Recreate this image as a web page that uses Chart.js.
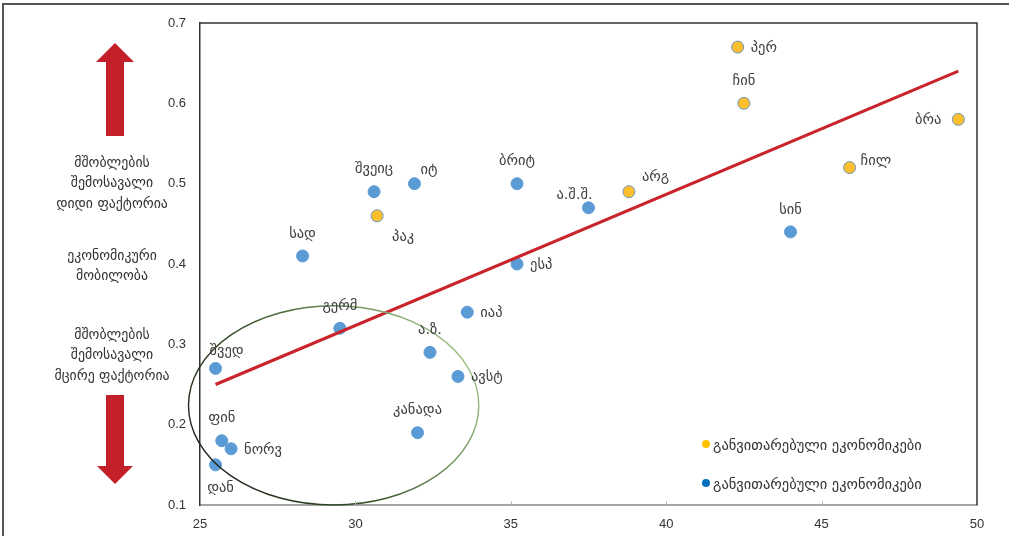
<!DOCTYPE html>
<html>
<head>
<meta charset="utf-8">
<script src="https://cdn.jsdelivr.net/npm/chart.js@4.4.1/dist/chart.umd.min.js"></script>
<style>
  html, body { margin: 0; padding: 0; background: #fff; }
  #wrap { position: relative; width: 1009px; height: 536px; }
</style>
</head>
<body>
<div id="wrap"><canvas id="mobility" width="1009" height="536"></canvas></div>
<script>
// ბრტყელი მონაცემები
const blueNames = ["შვედ", "ფინ", "ნორვ", "დან", "გერმ", "სად", "შვეიც", "იტ", "ბრიტ", "ესპ",
                   "იაპ", "ა.ზ.", "ავსტ", "კანადა", "ა.შ.შ.", "სინ"];
const blueX = [25.5, 25.7, 26.0, 25.5, 29.5, 28.3, 30.6, 31.9, 35.2, 35.2, 33.6, 32.4, 33.3, 32.0, 37.5, 44.0];
const blueY = [0.27, 0.18, 0.17, 0.15, 0.32, 0.41, 0.49, 0.50, 0.50, 0.40, 0.34, 0.29, 0.26, 0.19, 0.47, 0.44];

const yellowNames = ["პაკ", "არგ", "ჩინ", "პერ", "ჩილ", "ბრა"];
const yellowX = [30.7, 38.8, 42.5, 42.3, 45.9, 49.4];
const yellowY = [0.46, 0.49, 0.60, 0.67, 0.52, 0.58];

const trendX = [25.5, 49.4];
const trendY = [0.25, 0.64];

const ringCenter = [29.3, 0.224];
const ringRadius = [4.67, 0.124];

const xTicks = [25, 30, 35, 40, 45, 50];
const yTicks = [0.1, 0.2, 0.3, 0.4, 0.5, 0.6, 0.7];

const legendText = ["განვითარებული ეკონომიკები", "განვითარებული ეკონომიკები"];
const sideNotes = [
    ["მშობლების", "შემოსავალი", "დიდი ფაქტორია"],
    ["ეკონომიკური", "მობილობა"],
    ["მშობლების", "შემოსავალი", "მცირე ფაქტორია"]
];

// წარწერების განლაგება
const labelSide = {
    "შვედ": "topnudge", "ფინ": "top", "ნორვ": "right", "დან": "bottom", "გერმ": "top", "სად": "top",
    "შვეიც": "top", "იტ": "topright", "ბრიტ": "top", "ესპ": "right", "იაპ": "right", "ა.ზ.": "top",
    "ავსტ": "right", "კანადა": "top", "ა.შ.შ.": "topleft", "სინ": "top",
    "პაკ": "bottomright", "არგ": "rightup", "ჩინ": "top", "პერ": "right", "ჩილ": "rightlow", "ბრა": "left"
};
const sideOffsets = {
    top: [0, -22, "center"], topnudge: [11, -17, "center"], bottom: [5, 23, "center"],
    right: [13, 1, "left"], left: [-17, 1, "right"], topright: [6, -13, "left"],
    topleft: [-14, -13, "center"], bottomright: [26, 21, "center"], rightup: [13, -14, "left"],
    rightlow: [11, -6, "left"]
};

const geoFont = '"DejaVu Sans", sans-serif';
const numFont = '"Liberation Sans", Arial, sans-serif';

function points(xs, ys) {
    return xs.map((x, i) => ({ x: x, y: ys[i] }));
}

const decorPlugin = {
    id: "decor",
    beforeDraw(chart) {
        const c = chart.ctx;
        c.save();
        // გარე ჩარჩო
        c.strokeStyle = "#555";
        c.lineWidth = 2;
        c.beginPath();
        c.moveTo(3, 600);
        c.lineTo(3, 4);
        c.lineTo(1100, 4);
        c.stroke();

        // ისრები
        c.fillStyle = "#c4202a";
        const cx = 115;
        c.beginPath();
        c.moveTo(cx, 43);
        c.lineTo(cx + 19, 62);
        c.lineTo(cx + 9, 62);
        c.lineTo(cx + 9, 136);
        c.lineTo(cx - 9, 136);
        c.lineTo(cx - 9, 62);
        c.lineTo(cx - 19, 62);
        c.closePath();
        c.fill();
        c.beginPath();
        c.moveTo(cx, 484);
        c.lineTo(cx + 18, 466);
        c.lineTo(cx + 9, 466);
        c.lineTo(cx + 9, 395);
        c.lineTo(cx - 9, 395);
        c.lineTo(cx - 9, 466);
        c.lineTo(cx - 18, 466);
        c.closePath();
        c.fill();

        // მარცხენა ტექსტი
        c.fillStyle = "#333";
        c.font = "13.8px " + geoFont;
        c.textAlign = "center";
        c.textBaseline = "middle";
        const tops = [163, 256, 335];
        sideNotes.forEach((block, b) => {
            block.forEach((line, i) => c.fillText(line, 112, tops[b] + i * 20.5));
        });
        c.restore();
    },
    afterDraw(chart) {
        const c = chart.ctx;
        const a = chart.chartArea;
        const xs = chart.scales.x;
        c.save();
        // ჩარჩოს ზედა და მარჯვენა მხარე
        c.strokeStyle = "#333";
        c.lineWidth = 1.5;
        c.beginPath();
        c.moveTo(a.left, a.top);
        c.lineTo(a.right, a.top);
        c.lineTo(a.right, a.bottom);
        c.stroke();
        // პატარა დანაყოფები
        c.strokeStyle = "#bbb";
        c.lineWidth = 1;
        xTicks.slice(1, -1).forEach(v => {
            const px = Math.round(xs.getPixelForValue(v)) + 0.5;
            c.beginPath();
            c.moveTo(px, a.bottom);
            c.lineTo(px, a.bottom - 4);
            c.stroke();
        });
        c.restore();
    },
    afterDatasetsDraw(chart) {
        const c = chart.ctx;
        const xs = chart.scales.x, ys = chart.scales.y;
        c.save();
        // ელიფსი
        const ex = xs.getPixelForValue(ringCenter[0]);
        const ey = ys.getPixelForValue(ringCenter[1]);
        const rx = xs.getPixelForValue(ringCenter[0] + ringRadius[0]) - ex;
        const ry = ey - ys.getPixelForValue(ringCenter[1] + ringRadius[1]);
        const g = c.createLinearGradient(ex - rx, ey + ry, ex + rx, ey - ry);
        g.addColorStop(0, "#111");
        g.addColorStop(0.45, "#3d5a30");
        g.addColorStop(1, "#b5dc9b");
        c.strokeStyle = g;
        c.lineWidth = 1.4;
        c.beginPath();
        c.ellipse(ex, ey, rx, ry, 0, 0, Math.PI * 2);
        c.stroke();

        // წერტილების წარწერები
        c.fillStyle = "#404040";
        c.font = "14.5px " + geoFont;
        c.textBaseline = "middle";
        chart.data.datasets.forEach((ds, di) => {
            if (!ds.names) return;
            chart.getDatasetMeta(di).data.forEach((el, i) => {
                const name = ds.names[i];
                const off = sideOffsets[labelSide[name] || "top"];
                c.textAlign = off[2];
                c.fillText(name, el.x + off[0], el.y + off[1]);
            });
        });

        // ლეგენდა
        const legendDots = ["#ffc000", "#0070c0"];
        const legendY = [445, 484];
        c.font = "14.5px " + geoFont;
        c.textAlign = "left";
        legendText.forEach((t, i) => {
            c.fillStyle = legendDots[i];
            c.beginPath();
            c.arc(706, legendY[i] - 1, 4, 0, Math.PI * 2);
            c.fill();
            c.fillStyle = "#333";
            c.fillText(t, 713, legendY[i] + 1);
        });
        c.restore();
    }
};

new Chart(document.getElementById("mobility"), {
    type: "scatter",
    data: {
        datasets: [
            {
                type: "line",
                data: points(trendX, trendY),
                borderColor: "#c9242b",
                borderWidth: 3,
                pointRadius: 0,
                fill: false,
                order: 0
            },
            {
                label: legendText[0],
                names: yellowNames,
                data: points(yellowX, yellowY),
                backgroundColor: "#fdbf2d",
                borderColor: "#6b97bf",
                borderWidth: 1,
                pointRadius: 6,
                order: 1
            },
            {
                label: legendText[1],
                names: blueNames,
                data: points(blueX, blueY),
                backgroundColor: "#5b9bd5",
                borderColor: "#5b9bd5",
                borderWidth: 1,
                pointRadius: 6,
                order: 1
            }
        ]
    },
    options: {
        responsive: false,
        animation: false,
        layout: { padding: { top: 23, right: 32, left: 0, bottom: 0 } },
        plugins: {
            legend: { display: false },
            tooltip: { enabled: false }
        },
        scales: {
            x: {
                type: "linear",
                min: 25,
                max: 50,
                afterBuildTicks: s => { s.ticks = xTicks.map(v => ({ value: v })); },
                afterFit: s => { s.height = 31; },
                grid: { display: false },
                border: { display: true, color: "#a6a6a6", width: 2 },
                ticks: { color: "#333", padding: 4, font: { family: numFont, size: 13 } }
            },
            y: {
                type: "linear",
                min: 0.1,
                max: 0.7,
                afterBuildTicks: s => { s.ticks = yTicks.map(v => ({ value: v })); },
                afterFit: s => { s.width = 200; },
                grid: { display: false },
                border: { display: true, color: "#333", width: 1.5 },
                ticks: {
                    color: "#333",
                    padding: 6,
                    font: { family: numFont, size: 13 },
                    callback: v => v.toFixed(1)
                }
            }
        }
    },
    plugins: [decorPlugin]
});
</script>
</body>
</html>
